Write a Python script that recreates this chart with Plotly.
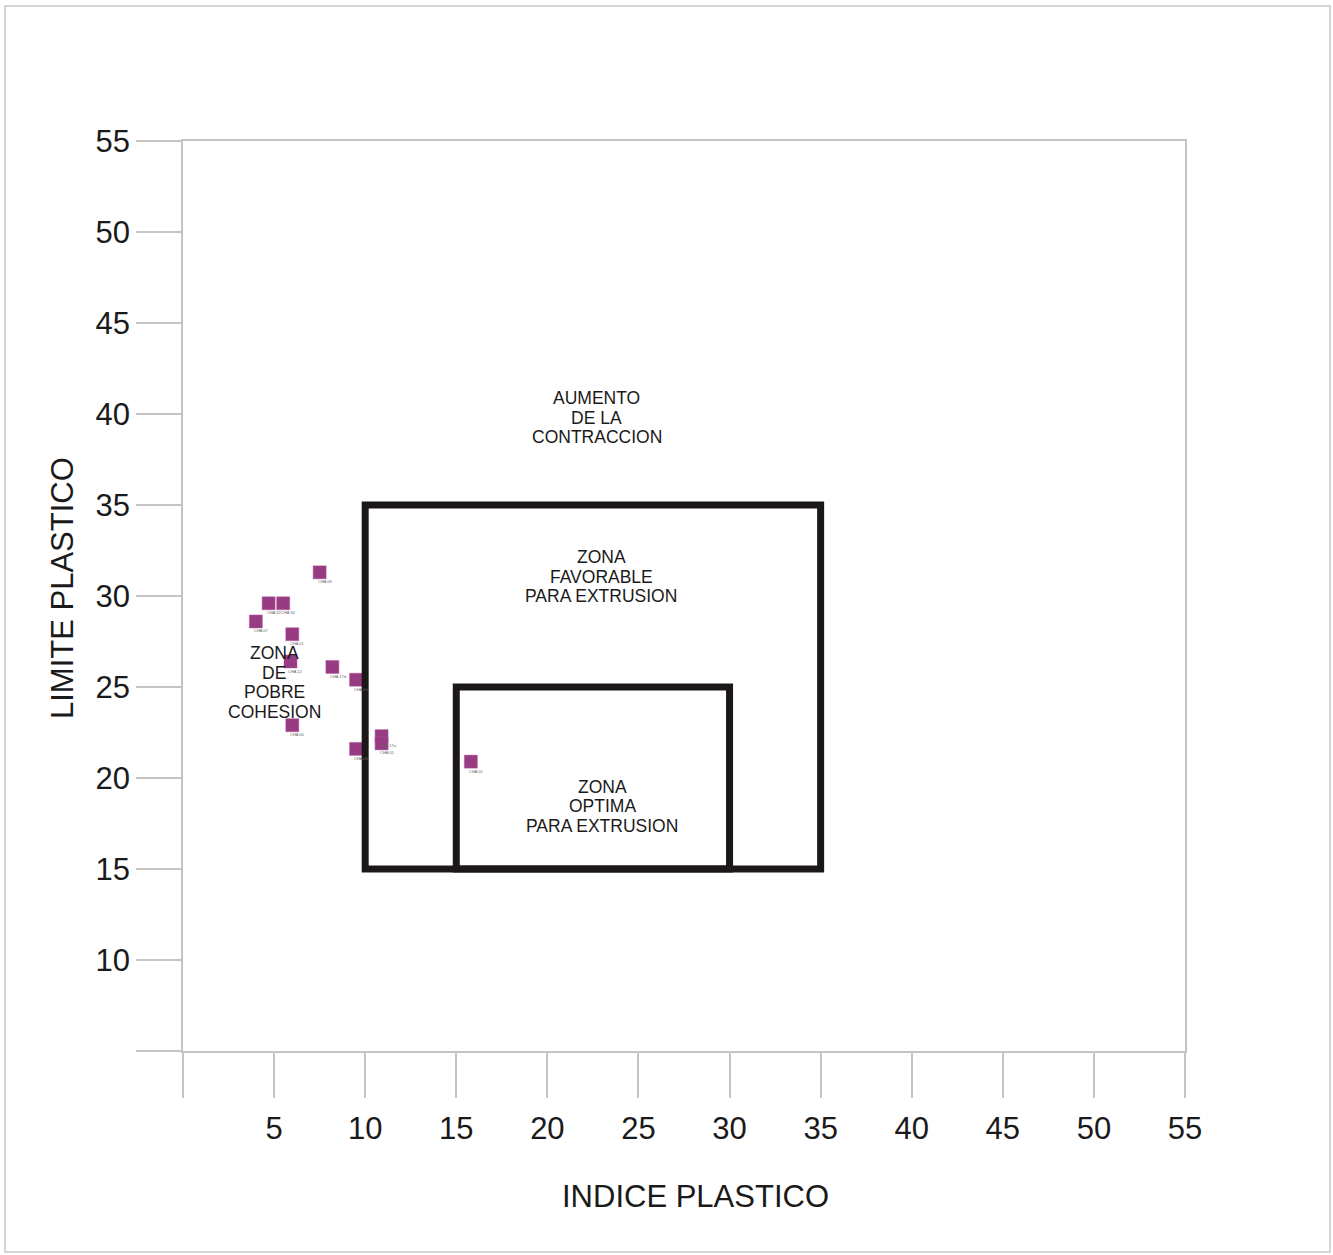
import plotly.graph_objects as go

# Sample measurements: plasticity index vs plastic limit
sample_ids = ["CHA 08", "CHA 32", "CHA 34", "CHA 07", "CHA 01", "CHA 12", "CHA 17d",
              "CHA 10", "CHA 06", "CHA 03", "CHA 17a", "CHA 05", "CHA 02"]
indice_plastico = [7.5, 4.7, 5.5, 4.0, 6.0, 5.9, 8.2, 9.5, 6.0, 9.5, 10.9, 10.9, 15.8]
limite_plastico = [31.3, 29.6, 29.6, 28.6, 27.9, 26.4, 26.1, 25.4, 22.9, 21.6, 22.3, 21.9, 20.9]

# Zone boundaries (x0, x1, y0, y1)
zona_favorable = [10, 35, 15, 35]
zona_optima = [15, 30, 15, 25]

# Zone captions: (x, y, lines)
zone_labels = [
    (22.7, 39.8, ["AUMENTO", "DE LA", "CONTRACCION"]),
    (22.95, 31.05, ["ZONA", "FAVORABLE", "PARA EXTRUSION"]),
    (23.0, 18.45, ["ZONA", "OPTIMA", "PARA EXTRUSION"]),
    (5.0, 25.25, ["ZONA", "DE", "POBRE", "COHESION"]),
]

x_ticks = [0, 5, 10, 15, 20, 25, 30, 35, 40, 45, 50, 55]
x_tick_text = ["", "5", "10", "15", "20", "25", "30", "35", "40", "45", "50", "55"]
y_ticks = [5, 10, 15, 20, 25, 30, 35, 40, 45, 50, 55]
y_tick_text = ["", "10", "15", "20", "25", "30", "35", "40", "45", "50", "55"]

FONT = "Liberation Sans, Arial, sans-serif"
GRAY = "#c4c4c4"
INK = "#1c1818"
LINE_GAP = 19.6  # px between caption lines

W, H = 1333, 1255
L, R, T, B = 183, 148, 141, 204
pw, ph = W - L - R, H - T - B

fig = go.Figure()

fig.add_trace(go.Scatter(
    x=indice_plastico, y=limite_plastico, mode="markers",
    text=sample_ids,
    marker=dict(symbol="square", size=13, color="#973c83",
                line=dict(width=0.5, color="#b35aa0")),
    hoverinfo="x+y+text", showlegend=False,
))

# Tiny sample tags just under each marker
for sx, sy, sid in zip(indice_plastico, limite_plastico, sample_ids):
    fig.add_annotation(x=sx, y=sy, xref="x", yref="y", text=sid, showarrow=False,
                       xanchor="left", yanchor="top", xshift=-3, yshift=-6,
                       borderpad=0, font=dict(size=4, color="#666666", family=FONT))

for bx in (zona_favorable, zona_optima):
    fig.add_shape(type="rect", xref="x", yref="y",
                  x0=bx[0], x1=bx[1], y0=bx[2], y1=bx[3],
                  line=dict(color=INK, width=7))

for x, y, lines in zone_labels:
    n = len(lines)
    for i, line in enumerate(lines):
        fig.add_annotation(x=x, y=y, xref="x", yref="y", text=line, showarrow=False,
                           xanchor="center", yanchor="middle",
                           yshift=((n - 1) / 2 - i) * LINE_GAP,
                           font=dict(size=17.5, color="#1a1a1a", family=FONT))

# Axis titles
fig.add_annotation(x=(695 - L) / pw, y=(H - B - 1196) / ph, xref="paper", yref="paper",
                   xanchor="center", yanchor="middle",
                   text="INDICE PLASTICO", showarrow=False,
                   font=dict(size=31, color="#1a1a1a", family=FONT))
fig.add_annotation(x=(62 - L) / pw, y=(H - B - 588) / ph, xref="paper", yref="paper",
                   xanchor="center", yanchor="middle",
                   text="LIMITE PLASTICO", showarrow=False, textangle=-90,
                   font=dict(size=31, color="#1a1a1a", family=FONT))

# Outer page frame
fig.add_shape(type="rect", xref="paper", yref="paper",
              x0=(5 - L) / pw, x1=(1330 - L) / pw,
              y0=(H - B - 1252) / ph, y1=(H - B - 6) / ph,
              line=dict(color="#c8c8c8", width=1.5))

axis_common = dict(showgrid=False, zeroline=False, showline=True, mirror=True,
                   linecolor=GRAY, linewidth=1.5, ticks="outside", ticklen=45,
                   tickcolor=GRAY, tickwidth=1.5,
                   tickfont=dict(size=31, color="#1a1a1a", family=FONT))

fig.update_xaxes(range=[0, 55], tickvals=x_ticks, ticktext=x_tick_text,
                 ticklabelstandoff=4, **axis_common)
fig.update_yaxes(range=[5, 55], tickvals=y_ticks, ticktext=y_tick_text,
                 ticklabelstandoff=0, **axis_common)

fig.update_layout(width=W, height=H, margin=dict(l=L, r=R, t=T, b=B),
                  paper_bgcolor="white", plot_bgcolor="white",
                  font=dict(family=FONT))

fig.write_html("out.html")
